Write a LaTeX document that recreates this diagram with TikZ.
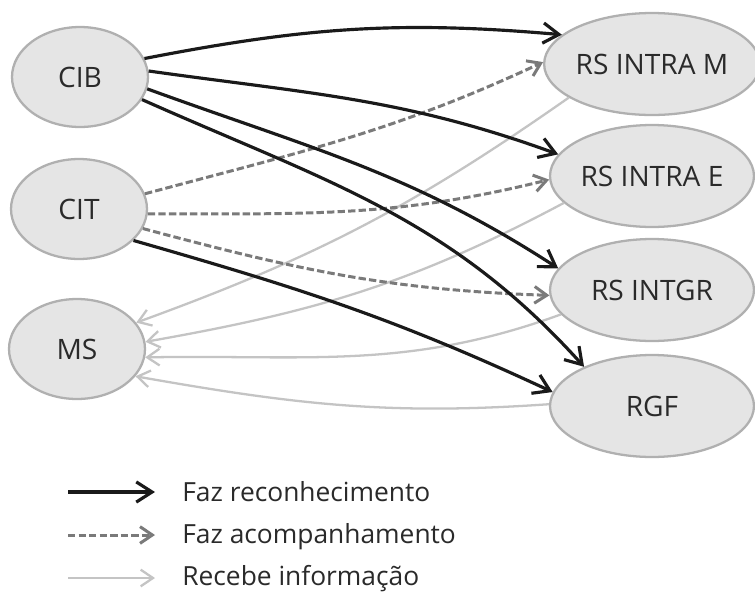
\documentclass[tikz,border=0pt]{standalone}
\usepackage{fontspec}
\setmainfont{Open Sans}
\usetikzlibrary{arrows.meta,shapes.geometric}
\definecolor{blk}{HTML}{1A1A1A}
\definecolor{dgray}{HTML}{7A7A7A}
\definecolor{lgray}{HTML}{C4C4C4}
\definecolor{ellfill}{HTML}{E5E5E5}
\definecolor{elldraw}{HTML}{B0B0B0}
\definecolor{txt}{HTML}{2A2A2A}
\begin{document}
\begin{tikzpicture}[x=0.02cm,y=0.02cm,
  ell/.style={ellipse, draw=elldraw, fill=ellfill, line width=1.3pt, inner sep=0pt,
    text=txt, font=\fontsize{16}{19}\selectfont},
  lell/.style={ell, minimum width=2.72cm, minimum height=2.0cm},
  rell/.style={ell, minimum width=4.08cm, minimum height=2.04cm},
  recon/.style={draw=blk, line width=1.8pt, -{Straight Barb[length=9pt,width=11.5pt]}},
  acomp/.style={draw=dgray, line width=1.7pt, dash pattern=on 4.2pt off 1.8pt, -{Straight Barb[length=7pt,width=9.5pt]}},
  info/.style={draw=lgray, line width=1.3pt, -{Straight Barb[length=7pt,width=9.5pt]}},
  legtxt/.style={anchor=base west, text=txt, font=\fontsize{15}{18}\selectfont, inner sep=0pt}
]
\useasboundingbox (0,0) rectangle (755,-593);
\fill[white] (0,0) rectangle (755,-593);

\node[lell] (cib) at (80,-77) {CIB};
\node[lell] (cit) at (79,-209) {CIT};
\node[lell] (ms)  at (77,-349) {MS};

\node[rell] (rsm) at (652,-64)  {RS INTRA M};
\node[rell] (rse) at (652,-176) {RS INTRA E};
\node[rell] (rsi) at (652,-290) {RS INTGR};
\node[rell] (rgf) at (652,-406) {RGF};

% Recebe informacao (light gray)
\draw[info] (rsm.202) to[out=215,in=20] (ms.24);
\draw[info] (rse.197) to[out=208,in=10] (ms.6);
\draw[info] (rsi.195) to[out=200,in=1] (ms.-7);
\draw[info] (rgf.179) to[out=184,in=-10] (ms.-25);

% Faz acompanhamento (dashed)
\draw[acomp] (cit.13) to[out=15,in=205] (rsm.179);
\draw[acomp] (cit.-4) to[out=0,in=194] (rse.182);
\draw[acomp] (cit.-17) to[out=-15,in=178] (rsi.183);

% Faz reconhecimento (black)
\draw[recon] (cib.16) to[out=11,in=175] (rsm.162);
\draw[recon] (cib.5) to[out=-8,in=160] (rse.167);
\draw[recon] (cib.-10) to[out=-20,in=147] (rsi.167);
\draw[recon] (cib.-20) to[out=-24,in=132] (rgf.150);
\draw[recon] (cit.-30) to[out=-16,in=155] (rgf.172);

% Legend
\coordinate (la1) at (68,-492); \coordinate (lb1) at (155,-492);
\coordinate (la2) at (68,-535); \coordinate (lb2) at (155,-535);
\coordinate (la3) at (68,-578); \coordinate (lb3) at (155,-578);
\draw[recon] (la1) -- (lb1);
\draw[acomp] (la2) -- (lb2);
\draw[info] (la3) -- (lb3);
\node[legtxt] (t1) at (182,-501) {Faz reconhecimento};
\node[legtxt] (t2) at (182,-543) {Faz acompanhamento};
\node[legtxt] (t3) at (182,-585) {Recebe informação};
\end{tikzpicture}
\end{document}
